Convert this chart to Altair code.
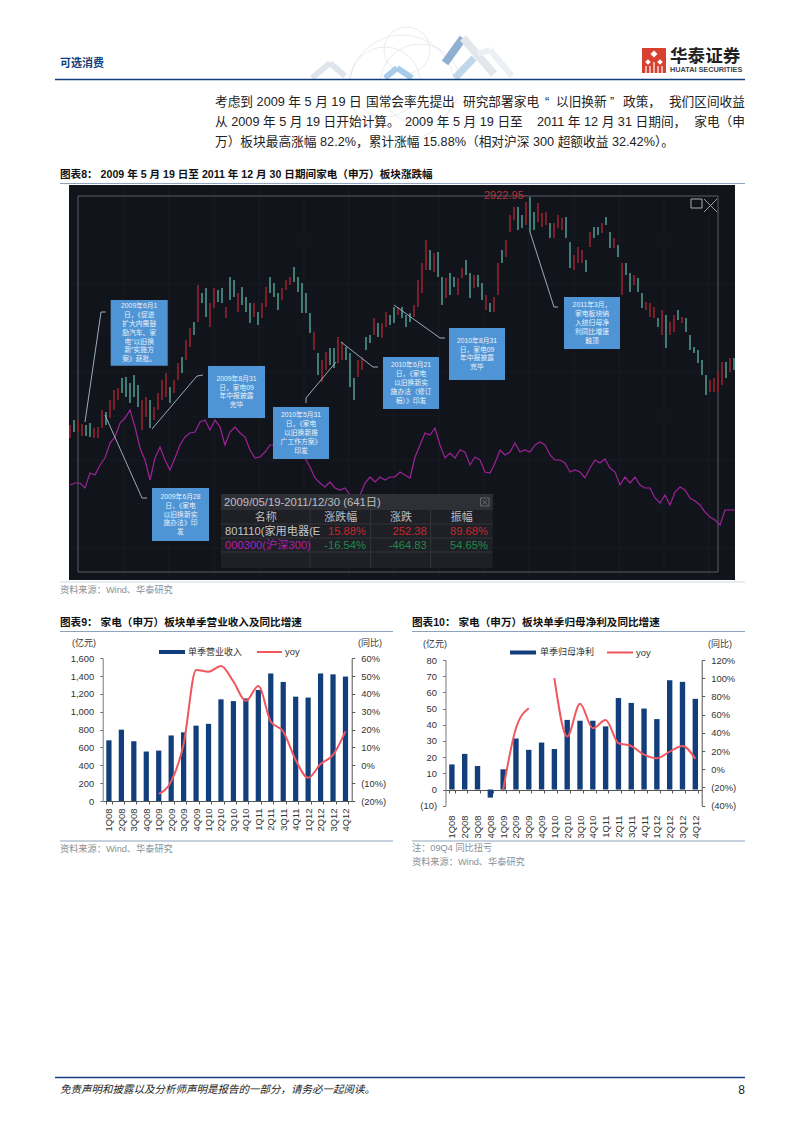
import altair as alt
import pandas as pd

W, H = 786, 1100
FONT = "Liberation Sans, Noto Sans CJK SC"
NAVY = "#123E7C"
LINE = "#F0575F"
GREY = "#8a8f96"
FW_MAP = str.maketrans({",": "\uff0c", "(": "\uff08", ")": "\uff09", ":": "\uff1a"})


def fw(s):
    return s.translate(FW_MAP)


QUARTERS = ["1Q08","2Q08","3Q08","4Q08","1Q09","2Q09","3Q09","4Q09","1Q10","2Q10",
            "3Q10","4Q10","1Q11","2Q11","3Q11","4Q11","1Q12","2Q12","3Q12","4Q12"]
REVENUE = [680,800,670,555,565,735,770,845,865,1140,1120,1150,1245,1430,1335,1170,1160,1430,1420,1395]
REV_YOY = [None,None,None,None,-16,-9,12,53.5,52.5,55.7,47,36,44.5,24.5,19,3,-7,0.7,5.8,19]
PROFIT = [15.5,22,14.5,-5,12.5,31.5,24.5,29,25,43,42.5,42.5,39,56.5,53.5,50,43.5,67.5,66.5,56]
PROFIT_YOY = [None,None,None,None,-22.7,45,67,None,100,36,72,45,54,28.6,25.6,16,12,19.4,25.6,11.4]

# index readings of the candlestick panel (no axis in the reference, relative units)
HIGHS = [575,580,580,576,575,577,572,573,590,588,
         600,610,612,622,623,617,625,615,600,603,
         600,593,607,620,627,613,620,637,643,660,
         672,678,715,707,712,697,712,710,712,693,
         723,720,707,713,703,697,697,688,697,713,
         723,717,707,712,720,723,733,723,717,707,
         687,668,647,640,648,652,652,663,658,653,
         647,622,640,643,663,665,682,677,677,688,
         685,693,693,693,685,687,695,720,737,760,
         750,747,748,723,722,727,723,722,732,740,
         727,725,725,717,705,697,703,737,750,760,
         785,793,793,785,798,803,788,797,787,788,
         777,777,785,782,783,758,745,753,750,740,
         768,773,773,777,783,768,762,755,737,737,
         727,725,722,707,698,697,693,682,690,685,
         678,685,690,683,682,665,653,650,640,625,
         620,622,628,638,638,642,642]
LOWS = [562,568,568,564,564,563,562,562,572,575,
        582,590,600,607,603,597,603,593,570,583,
        572,580,590,600,603,597,607,620,627,640,
        653,665,678,697,683,673,692,698,697,682,
        700,703,688,695,688,677,683,675,682,693,
        707,703,690,700,710,715,718,708,687,687,
        667,650,625,618,630,635,632,637,640,640,
        613,600,623,630,650,657,665,663,662,673,
        675,677,685,682,673,678,683,693,707,730,
        730,728,723,695,702,705,713,705,722,725,
        702,712,713,700,690,688,688,705,737,743,
        768,780,770,772,775,768,770,778,773,775,
        762,762,772,770,762,732,730,737,737,728,
        753,762,765,767,775,752,752,743,705,725,
        708,715,708,692,690,683,682,673,665,652,
        665,668,680,677,668,650,647,637,625,605,
        608,608,608,615,622,628,630]
DIRS = ("rtrrttrrrt" "rrrtttttrr" "trrrrtrrtr" "rtrttrrttr" "ttrtttrtrr" "tttrrrtttt"
        "trtrrttrrt" "ttrrttrtrr" "ttrtttrrrr" "trttrttrrt" "trttrtrrtr" "rrttrttrrr"
        "trrrttrrrt" "rttrttrtrt" "trttrrrtrt" "rrtrtttttt" "rrrrtrt")
HS300 = [515,517,517,512,527,525,535,542,557,563,
         577,582,590,573,552,540,520,542,553,540,
         530,542,555,563,567,568,578,580,570,580,
         573,555,568,573,567,563,550,542,543,548,
         555,555,558,560,555,552,548,542,533,522,
         517,513,518,512,510,512,505,500,505,517,
         523,518,523,520,523,523,528,525,522,543,
         555,567,565,572,555,542,547,542,550,548,
         535,543,540,528,527,537,550,545,548,557,
         548,550,548,555,558,555,545,540,540,537,
         528,530,528,522,532,540,537,541,532,528,
         515,523,517,523,515,512,512,502,497,505,
         495,508,513,510,502,499,495,488,483,480,
         475,490,490,490]


def texts(rows, size, color, align="left", weight="normal", italic=False, font=FONT):
    df = pd.DataFrame(rows, columns=["x", "y", "t"])
    df["x"] -= 8
    df["y"] -= 8
    kw = dict(align=align, baseline="middle", fontSize=size, color=color, font=font, fontWeight=weight)
    if italic:
        kw["fontStyle"] = "italic"
    return alt.Chart(df).mark_text(**kw).encode(
        x=alt.X("x:Q", scale=None, axis=None),
        y=alt.Y("y:Q", scale=None, axis=None),
        text="t:N",
    )


def rects(rows, color, **kw):
    df = pd.DataFrame(rows, columns=["x", "x2", "y", "y2"]) - 8
    return alt.Chart(df).mark_rect(color=color, **kw).encode(
        x=alt.X("x:Q", scale=None, axis=None), x2="x2:Q",
        y=alt.Y("y:Q", scale=None, axis=None), y2="y2:Q",
    )


def rules(rows, color, width=1.0, opacity=1.0):
    df = pd.DataFrame(rows, columns=["x", "y", "x2", "y2"]) - 8
    return alt.Chart(df).mark_rule(color=color, strokeWidth=width, opacity=opacity).encode(
        x=alt.X("x:Q", scale=None, axis=None), x2="x2:Q",
        y=alt.Y("y:Q", scale=None, axis=None), y2="y2:Q",
    )


def circles(rows, stroke, width=0.8, fill=None, shape="circle"):
    df = pd.DataFrame(rows, columns=["x", "y", "s"])
    df["x"] -= 8
    df["y"] -= 8
    kw = dict(shape=shape, strokeWidth=width, opacity=1)
    if fill:
        kw.update(filled=True, color=fill)
    else:
        kw.update(filled=False, color=stroke)
    return alt.Chart(df).mark_point(**kw).encode(
        x=alt.X("x:Q", scale=None, axis=None),
        y=alt.Y("y:Q", scale=None, axis=None),
        size=alt.Size("s:Q", scale=None, legend=None),
    )


def combo(bars, yoy, x0, x1, ytop, ybot, bar_dom, yoy_dom, zero_y, label_pad, pad_outer):
    df = pd.DataFrame({"q": QUARTERS, "v": bars, "yoy": yoy})
    xa = alt.Axis(orient="bottom", offset=-(H - (zero_y - 8)), title=None, labelAngle=270,
                  labelFontSize=9.4, labelFont=FONT, labelColor="#333", labelPadding=label_pad,
                  tickBand="extent", tickSize=3, tickColor="#555", domainColor="#555", grid=False,
                  labelOverlap=False)
    ya = alt.Axis(orient="left", offset=-(x0 - 8), title=None, values=list(range(bar_dom[0], bar_dom[1] + 1, bar_dom[2])),
                  format=",.0f", labelExpr="datum.value<0 ? '('+format(-datum.value,',.0f')+')' : format(datum.value,',.0f')",
                  labelFontSize=9.4, labelFont=FONT, labelColor="#333", tickSize=3, tickColor="#777",
                  domainColor="#777", grid=False, labelPadding=6)
    bar = alt.Chart(df).mark_bar(color=NAVY).encode(
        x=alt.X("q:N", sort=None, axis=xa,
                scale=alt.Scale(domain=QUARTERS, range=[x0 - 8, x1 - 8], type="band",
                                paddingInner=0.58, paddingOuter=pad_outer)),
        y=alt.Y("v:Q", axis=ya,
                scale=alt.Scale(domain=[bar_dom[0], bar_dom[1]], range=[ybot - 8, ytop - 8], nice=False, zero=False)),
    )
    ra = alt.Axis(orient="right", offset=-(W - (x1 - 8)), title=None,
                  values=list(range(yoy_dom[0], yoy_dom[1] + 1, yoy_dom[2])),
                  labelExpr="datum.value<0 ? '('+(-datum.value)+'%)' : datum.value+'%'",
                  labelFontSize=9.4, labelFont=FONT, labelColor="#333", tickSize=3, tickColor="#555",
                  domainColor="#555", grid=False, labelPadding=6)
    line = alt.Chart(df).mark_line(color=LINE, strokeWidth=2, interpolate="monotone").encode(
        x=alt.X("q:N", sort=None, axis=None,
                scale=alt.Scale(domain=QUARTERS, range=[x0 - 8, x1 - 8], type="point", padding=0.5)),
        y=alt.Y("yoy:Q", axis=ra,
                scale=alt.Scale(domain=[yoy_dom[0], yoy_dom[1]], range=[ybot - 8, ytop - 8], nice=False, zero=False)),
    )
    return [bar, line]


layers = []

# ---------- page furniture ----------
layers += [circles([(402, 88, 11236), (407, 50, 2116), (385, 82, 4900), (420, 84, 6400)], "#dfe2e6", 0.7)]
layers += [rules([(312, 78, 330, 63), (330, 63, 345, 76)], "#dfe5ec", 6)]
layers += [rules([(445, 63, 463, 38)], "#8fb0d2", 8), rules([(463, 38, 494, 74)], "#e3e6ea", 8),
           rules([(455, 78, 474, 58)], "#c0d6ea", 7), rules([(385, 78, 397, 68), (397, 68, 412, 78)], "#a8cbe9", 6),
           rules([(478, 54, 490, 50), (490, 50, 512, 76)], "#eceff3", 6)]
layers += [rects([(290, 530, 80, 98)], "white")]
layers += [rules([(55, 79.5, 745, 79.5)], NAVY, 1.6)]
layers += [texts([(60, 64, "可选消费")], 11, NAVY, weight="bold")]
layers += [rects([(642, 666, 48, 73)], "#D8402F")]
layers += [circles([(654, 54, 50), (648, 62, 32), (660, 62, 32)], None, fill="white", shape="diamond")]
layers += [rules([(646, 66, 646, 73), (650, 66, 650, 73), (654, 62, 654, 73), (658, 66, 658, 73), (662, 66, 662, 73)], "white", 1.2)]
layers += [texts([(670, 57, "华泰证券")], 17.6, "#222", weight="bold")]
layers += [texts([(670, 70, "HUATAI SECURITIES")], 7.3, "#444", weight="bold")]
BODY = 12.7
layers += [texts([
    (215, 102, "考虑到 2009 年 5 月 19 日"),
    (366, 102, "国常会率先提出"),
    (463, 102, "研究部署家电"),
    (545, 102, "“"),
    (556, 102, "以旧换新"),
    (610, 102, "”"),
    (623, 102, fw("政策,")),
    (215, 122, "从 2009 年 5 月 19 日开始计算。"),
    (405, 122, "2009 年 5 月 19 日至"),
    (537, 122, fw("2011 年 12 月 31 日期间,")),
    (215, 142, fw("万)板块最高涨幅 82.2%,累计涨幅 15.88%(相对沪深 300 超额收益 32.42%)。")),
], BODY, "#222")]
layers += [texts([(745, 102, "我们区间收益"), (745, 122, fw("家电(申"))], BODY, "#222", align="right")]
layers += [texts([(60, 175, fw("图表8: 2009 年 5 月 19 日至 2011 年 12 月 30 日期间家电(申万)板块涨跌幅"))], 10.6, "#111", weight="bold")]
layers += [rules([(60, 183.5, 745, 183.5)], "#8ea3bd", 1.2)]
layers += [rules([(55, 1077.5, 745, 1077.5)], NAVY, 1.6)]
layers += [texts([(60, 1090, fw("免责声明和披露以及分析师声明是报告的一部分,请务必一起阅读。"))], 10.5, "#222", italic=True)]
layers += [texts([(745, 1090, "8")], 12, "#222", align="right")]

# ---------- dark market panel ----------
layers += [rects([(69, 735, 185, 580)], "#11141B")]
layers += [rules([(60, 582, 745, 582)], "#d5d8dd", 1.2)]
grid_x = [124, 169, 214, 259, 304, 349, 394, 439, 484, 529, 574, 619, 664, 709]
grid_y = [240, 284, 328, 372, 416, 460, 504, 548]
layers += [rules([(v, 185, v, 580) for v in grid_x] + [(69, v, 735, v) for v in grid_y], "#191C23", 0.8)]
layers += [rules([(78, 196, 718, 196), (78, 196, 78, 572), (78, 572, 718, 572), (718, 196, 718, 572)], "#5b5e64", 1)]

candles = pd.DataFrame({"i": list(range(len(HIGHS))), "h": HIGHS, "l": LOWS, "d": list(DIRS)})
layers += [alt.Chart(candles).mark_rule(strokeWidth=1.7).encode(
    x=alt.X("i:Q", axis=None, scale=alt.Scale(domain=[0, 166], range=[62, 726], nice=False, zero=False)),
    y=alt.Y("h:Q", axis=None, scale=alt.Scale(domain=[419, 815], range=[573, 177], nice=False, zero=False)),
    y2="l:Q",
    color=alt.Color("d:N", legend=None, scale=alt.Scale(domain=["r", "t"], range=["#8E222C", "#4A8F86"])),
)]
hs = pd.DataFrame({"i": list(range(len(HS300))), "v": HS300})
layers += [alt.Chart(hs).mark_line(color="#9E229A", strokeWidth=1.2).encode(
    x=alt.X("i:Q", axis=None, scale=alt.Scale(domain=[0, 133], range=[62, 727], nice=False, zero=False)),
    y=alt.Y("v:Q", axis=None, scale=alt.Scale(domain=[419, 815], range=[573, 177], nice=False, zero=False)),
)]
layers += [texts([(484, 196, "2922.95")], 11, "#B8323A")]
layers += [rules([(520, 196, 528, 196)], "#8c3238", 0.8)]
layers += [rects([(691, 702, 199, 208)], "#11141B", stroke="#a8aaae", strokeWidth=1)]
layers += [rules([(704, 199, 717, 212), (717, 199, 704, 212)], "#a8aaae", 0.9)]

# connectors
layers += [rules([
    (105.7, 312, 101, 312), (101, 312, 85, 422),
    (203, 375, 197, 376), (197, 376, 152, 429),
    (306, 403, 306, 398), (306, 398, 336, 362),
    (147, 498, 142, 498), (142, 498, 105, 415),
    (378, 367, 373, 367), (373, 367, 341, 342),
    (445, 338, 440, 338), (440, 338, 394, 305),
    (558, 307, 554, 307), (554, 307, 530, 232),
], "#a9bccd", 0.9)]

# callouts
CALLOUTS = [
    ((110.7, 167.7, 300, 365.7), ["2009年6月1", "日,《促进", "扩大内需鼓", "励汽车、家", "电“以旧换", "新”实施方", "案》获批。"]),
    ((208, 265, 366, 418), ["2009年8月31", "日,家电09", "年中报披露", "完毕"]),
    ((273, 329, 407, 459), ["2010年5月31", "日,《家电", "以旧换新推", "广工作方案》", "印发"]),
    ((152, 209, 488, 541), ["2009年6月28", "日,《家电", "以旧换新实", "施办法》印", "发"]),
    ((383, 439, 357, 409), ["2010年6月21", "日,《家电", "以旧换新实", "施办法(修订", "稿)》印发"]),
    ((449, 505, 328, 380), ["2010年8月31", "日,家电09", "年中报披露", "完毕"]),
    ((564, 620, 297, 349), ["2011年3月,", "家电板块纳", "入统归母净", "利同比增速", "触顶"]),
]
layers += [rects([c[0] for c in CALLOUTS], "#4F94D4")]
rows = []
for (x0, x1, y0, y1), ls in CALLOUTS:
    cx = (x0 + x1) / 2
    top = (y0 + y1) / 2 - (len(ls) - 1) * 8.8 / 2
    for i, s in enumerate(ls):
        rows.append((cx, top + i * 8.8, fw(s)))
layers += [texts(rows, 6.8, "#EAF2FA", align="center")]

# statistics table
layers += [rects([(221, 492.7, 494, 568)], "#1F2026")]
layers += [rects([(221, 492.7, 494, 510)], "#2F3036")]
layers += [rules([(221, 524, 492.7, 524), (221, 538, 492.7, 538), (221, 552, 492.7, 552),
                  (310, 510, 310, 568), (370.7, 510, 370.7, 568), (430.7, 510, 430.7, 568)], "#3a3b41", 0.8)]
layers += [rects([(480.5, 489, 498, 506)], "#2F3036", stroke="#75767b", strokeWidth=0.8)]
layers += [rules([(482.5, 500, 487, 504.5), (487, 500, 482.5, 504.5)], "#75767b", 0.8)]
layers += [texts([(224, 503, "2009/05/19-2011/12/30 (641日)")], 11.3, "#BDBEC2")]
layers += [texts([(265.7, 518, "名称"), (340.7, 518, "涨跌幅"), (401, 518, "涨跌"), (461.7, 518, "振幅")], 11, "#BDBEC2", align="center")]
layers += [texts([(225, 532, "801110(家用电器(E")], 11.2, "#C4C5C8")]
layers += [texts([(225, 546, "000300(沪深300)")], 11.2, "#B01FB0")]
layers += [texts([(366, 532, "15.88%"), (426.7, 532, "252.38"), (488, 532, "89.68%")], 11.2, "#C7262E", align="right")]
layers += [texts([(366, 546, "-16.54%"), (426.7, 546, "-464.83"), (488, 546, "54.65%")], 11.2, "#1F8A4A", align="right")]
layers += [texts([(60, 590, fw("资料来源:Wind、华泰研究"))], 9.2, GREY)]

# ---------- chart 9 ----------
layers += [texts([(60, 623, fw("图表9: 家电(申万)板块单季营业收入及同比增速"))], 10.6, "#111", weight="bold")]
layers += [rules([(60, 631.5, 393, 631.5), (60, 841, 393, 841)], "#8ea3bd", 1.1)]
layers += combo(REVENUE, REV_YOY, 102.7, 351.7, 658.3, 801, (0, 1600, 200), (-20, 60, 10), 801, 4, 0.29)
layers += [rects([(159, 185, 650, 654)], NAVY), rects([(510, 536, 650.5, 654.5)], NAVY)]
layers += [rules([(257, 652, 282, 652), (607, 652.5, 633, 652.5)], LINE, 2)]
layers += [texts([(188, 651.5, "单季营业收入"), (540, 652, "单季归母净利")], 9, "#333")]
layers += [texts([(285, 651.5, "yoy"), (636, 652.5, "yoy")], 9.4, "#333")]
layers += [texts([(72, 643, "(亿元)"), (358, 643, "(同比)"), (423, 644, "(亿元)"), (708, 644, "(同比)")], 9, "#333")]
layers += [texts([(60, 849, fw("资料来源:Wind、华泰研究"))], 9.2, GREY)]

# ---------- chart 10 ----------
layers += [texts([(412, 623, fw("图表10: 家电(申万)板块单季归母净利及同比增速"))], 10.6, "#111", weight="bold")]
layers += [rules([(412, 631.5, 745, 631.5), (412, 841, 745, 841)], "#8ea3bd", 1.1)]
layers += combo(PROFIT, PROFIT_YOY, 445.5, 701.7, 660, 805.7, (-10, 80, 10), (-40, 120, 20), 790, 22, 0.29)
layers += [texts([(412, 848, fw("注:09Q4 同比扭亏")), (412, 862, fw("资料来源:Wind、华泰研究"))], 9.2, GREY)]

chart = alt.layer(*layers).resolve_scale(
    x="independent", y="independent", color="independent", size="independent"
).resolve_axis(x="independent", y="independent").properties(
    width=W, height=H, padding=0, autosize=alt.AutoSizeParams(type="none"), background="white"
).configure_view(stroke=None)

chart.save("out.html", embed_options={"renderer": "svg", "actions": False})
